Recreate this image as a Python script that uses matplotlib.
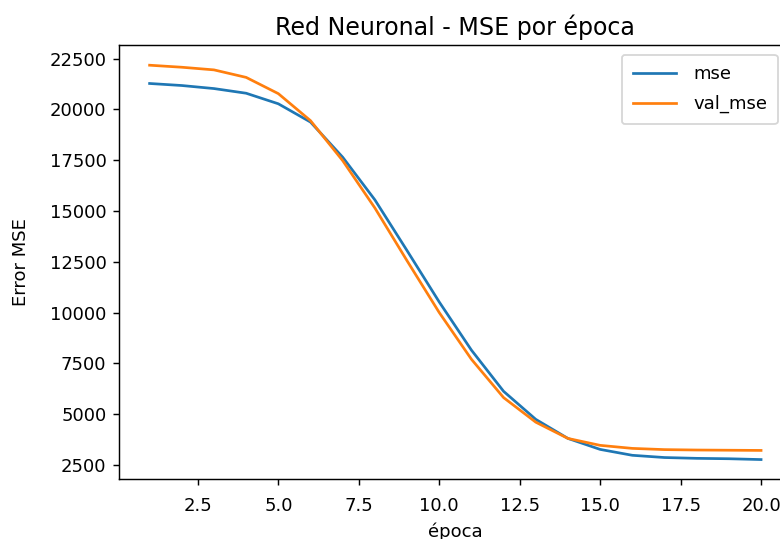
import matplotlib
matplotlib.use('Agg')
import matplotlib.pyplot as plt

# valores
epocas = list(range(1, 21))
mse = [21280, 21180, 21030, 20800, 20280, 19380, 17650, 15550, 13050, 10520,
       8150, 6120, 4740, 3800, 3260, 2970, 2860, 2820, 2800, 2760]
val_mse = [22180, 22080, 21950, 21580, 20780, 19450, 17480, 15150, 12550, 10000,
           7700, 5810, 4600, 3800, 3460, 3310, 3250, 3230, 3220, 3210]

fig = plt.figure(figsize=(6, 539 / 130), dpi=130)
ax = fig.add_axes([0.1526, 0.1108, 0.8623, 0.8048])   # el eje se sale por la derecha (recorte)

ax.plot(epocas, mse, label='mse')
ax.plot(epocas, val_mse, label='val_mse')
ax.set_title('Red Neuronal - MSE por época', fontsize=13.2, pad=6)
ax.set_xlabel('época', labelpad=4)
ax.set_ylabel('Error MSE', labelpad=11)
ax.tick_params(axis='x', pad=6.5)
ax.legend(loc='upper right', bbox_to_anchor=(0.993, 1.0),
          handlelength=2.4, handletextpad=0.95, labelspacing=0.65, borderpad=0.6)

fig.savefig('out.png', dpi=130)
